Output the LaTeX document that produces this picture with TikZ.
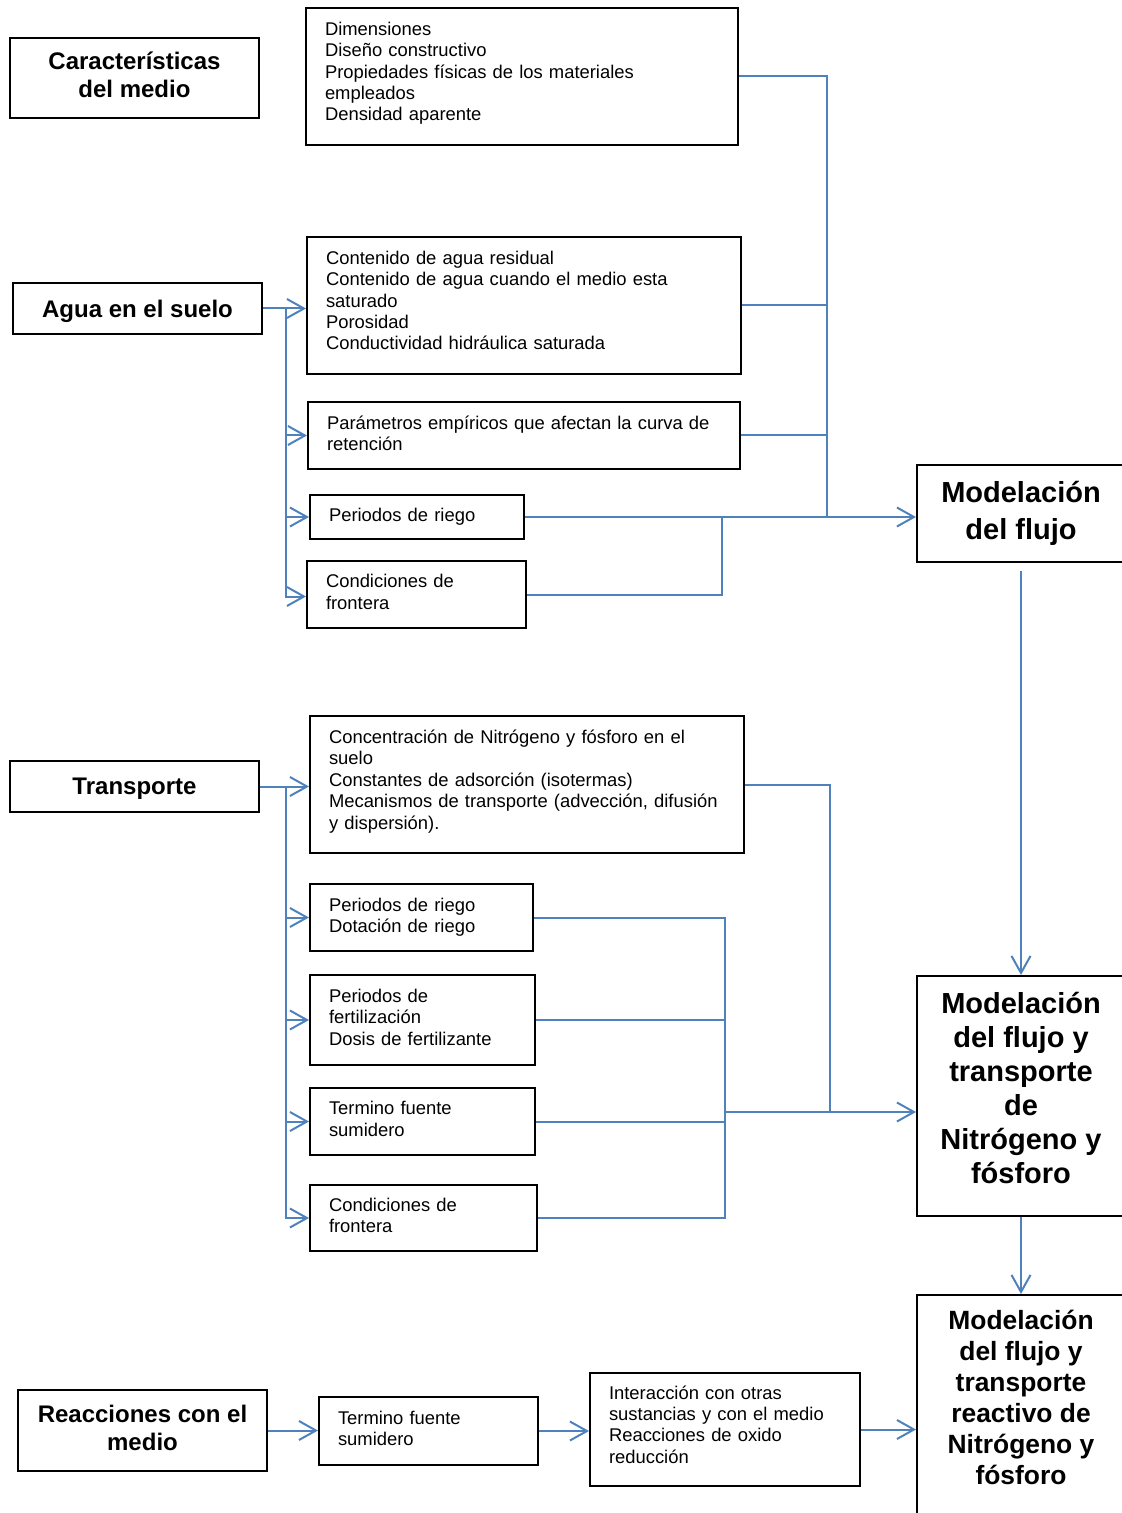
\documentclass[tikz,border=0pt]{standalone}
\usepackage{fontspec}
\setmainfont{Liberation Sans}
\usepackage{tikz}
\usetikzlibrary{arrows.meta, positioning}

\definecolor{linkblue}{RGB}{79,129,189}

\tikzset{
    head/.style={draw, line width=1pt, align=center, minimum width=124.5pt,
        font=\bfseries\fontsize{12}{14}\selectfont},
    info/.style={draw, line width=1pt, align=left, inner xsep=9.5pt,
        font=\fontsize{9.2}{10.7}\selectfont},
    model/.style={draw, line width=1pt, align=center, minimum width=104pt,
        font=\bfseries\fontsize{14.5}{17}\selectfont},
    lift/.style={execute at end node={\rule[-#1]{0pt}{0pt}}},
    lift/.default=5pt,
    flow/.style={draw=linkblue, line width=1pt},
    arr/.style={flow, -{Straight Barb[length=8.5pt, width=9.5pt]}},
}

\begin{document}
\begin{tikzpicture}[x=0.5pt, y=-0.5pt]
        \useasboundingbox (0,0) rectangle (1121,1513);

        % left column
        \node[head, lift=3pt, minimum height=40pt] (car)    at (134.5,78)    {Características\\del medio};
        \node[head, text depth=0pt, minimum height=25.5pt] (agua)  at (137.5,308.5) {Agua en el suelo};
        \node[head, text depth=0pt, minimum height=25.5pt] (trans) at (134.5,786.5) {Transporte};
        \node[head, lift=3pt, minimum height=40.5pt] (reac) at (142.5,1430.5) {Reacciones con el\\medio};

        % middle column
        \node[info, lift, text width=197pt, minimum height=68.5pt] (dim)    at (522,76.5)
            {Dimensiones\\Diseño constructivo\\Propiedades físicas de los materiales\\empleados\\Densidad aparente};
        \node[info, lift, text width=198pt, minimum height=68.5pt] (cont)   at (524,305.5)
            {Contenido de agua residual\\Contenido de agua cuando el medio esta\\saturado\\Porosidad\\Conductividad hidráulica saturada};
        \node[info, lift=2.5pt, text width=197pt, minimum height=33.5pt] (param)  at (524,435.5)
            {Parámetros empíricos que afectan la curva de\\retención};
        \node[info, text width=88pt, minimum height=22pt]          (per_a)  at (417,517)
            {Periodos de riego};
        \node[info, lift=2.5pt, text width=90.5pt, minimum height=33.5pt] (cond_a) at (416.5,594.5)
            {Condiciones de\\frontera};

        \node[info, lift, text width=198pt, minimum height=68.5pt] (conc)   at (527,784.5)
            {Concentración de Nitrógeno y fósforo en el\\suelo\\Constantes de adsorción (isotermas)\\Mecanismos de transporte (advección, difusión\\y dispersión).};
        \node[info, text width=92.5pt, minimum height=33.5pt]      (per_b)  at (421.5,917.5)
            {Periodos de riego\\Dotación de riego};
        \node[info, lift=3pt, text width=93.5pt, minimum height=45pt]  (fert)   at (422.5,1020)
            {Periodos de\\fertilización\\Dosis de fertilizante};
        \node[info, lift=2.5pt, text width=93.5pt, minimum height=33.5pt] (term)  at (422.5,1121.5)
            {Termino fuente\\sumidero};
        \node[info, lift=2.5pt, text width=94.5pt, minimum height=33pt]  (cond_b) at (423.5,1218)
            {Condiciones de\\frontera};

        \node[info, lift=2.5pt, text width=90.5pt, minimum height=34pt]  (term_c) at (428.5,1431)
            {Termino fuente\\sumidero};
        \node[info, lift, text width=116pt, minimum height=56.5pt] (inter)  at (725,1429.5)
            {Interacción con otras\\sustancias y con el medio\\Reacciones de oxido\\reducción};

        % right column
        \node[model, minimum height=48.5pt, font=\bfseries\fontsize{14.5}{18.5}\selectfont] (flujo) at (1021,513.5)
            {Modelación\\del flujo};
        \node[model, lift=8pt, minimum height=120pt] (nit) at (1021,1096)
            {Modelación\\del flujo y\\transporte\\de\\Nitrógeno y\\fósforo};
        \node[model, minimum height=122.5pt] (reac2) at (1021,1417.5) {};
        \node[align=center, font=\bfseries\fontsize{13.2}{15.5}\selectfont] (reac2_txt) at (1021,1397)
            {Modelación\\del flujo y\\transporte\\reactivo de\\Nitrógeno y\\fósforo};

        % junctions
        \coordinate (bus_a)  at ([xshift=11.5pt]agua.east);
        \coordinate (join_a) at (827,517);
        \coordinate (knee_a) at (722,517);
        \coordinate (bus_b)  at ([xshift=13pt]trans.east);
        \coordinate (join_b) at (725,1112);
        \coordinate (join_c) at (830,1112);

        % agua en el suelo
        \draw[arr] (agua.east) -- (agua.east -| cont.west);
        \draw[arr] (bus_a) |- (param.west);
        \draw[arr] (bus_a) |- (per_a.west);
        \draw[arr] (bus_a) |- ([yshift=-1pt]cond_a.west);
        \draw[flow] (dim.east) -| (join_a);
        \draw[flow] (cont.east) -| (join_a);
        \draw[flow] (param.east) -| (join_a);
        \draw[flow] (cond_a.east) -| (knee_a);
        \draw[arr] (per_a.east) -- (per_a.east -| flujo.west);
        \draw[arr, shorten <=4pt] (flujo) -- (nit);

        % transporte
        \draw[arr] (trans.east) -- (trans.east -| conc.west);
        \draw[arr] (bus_b) |- (per_b.west);
        \draw[arr] (bus_b) |- (fert.west);
        \draw[arr] (bus_b) |- (term.west);
        \draw[arr] (bus_b) |- (cond_b.west);
        \draw[flow] (per_b.east) -| (join_b);
        \draw[flow] (fert.east) -| (join_b);
        \draw[flow] (term.east) -| (join_b);
        \draw[flow] (cond_b.east) -| (join_b);
        \draw[flow] (conc.east) -| (join_c);
        \draw[arr] (join_b) -- (join_b -| nit.west);
        \draw[arr] (nit) -- (reac2);

        % reacciones
        \draw[arr] (reac.east) -- (reac.east -| term_c.west);
        \draw[arr] (term_c.east) -- (term_c.east -| inter.west);
        \draw[arr] (inter.east) -- (inter.east -| reac2.west);
\end{tikzpicture}
\end{document}
